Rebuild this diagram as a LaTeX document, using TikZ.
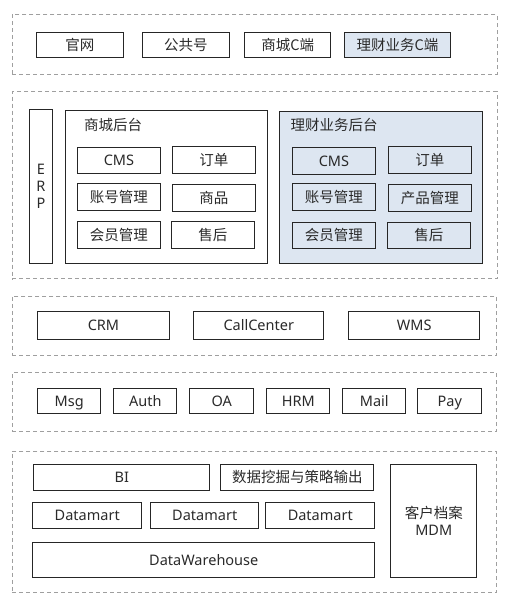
\documentclass[tikz,border=0pt]{standalone}
\usepackage{fontspec}
\setmainfont{Noto Sans}
\newfontfamily\cjk{Noto Sans CJK SC}
\definecolor{lb}{HTML}{DDE6F1}
\definecolor{tx}{HTML}{2A2A2A}
\newcommand\bx[7][]{\node[bx,#1,anchor=north west,minimum width=#4pt-#2pt,minimum height=#5pt-#3pt] (#6) at (#2,#3) {#7};}
\begin{document}
\begin{tikzpicture}[x=1pt,y=-1pt,
  bx/.style={draw=black!85,line width=0.9pt,inner sep=0pt,text=tx,font=\fontsize{14.5}{17}\selectfont,align=center,text height=10.4pt,text depth=0pt},
  multi/.style={text height=,text depth=},
  layer/.style={draw=gray!75,line width=0.8pt,dash pattern=on 4pt off 3pt},
  blue/.style={fill=lb},
  lbl/.style={anchor=west,inner sep=0pt,text=tx,font=\cjk\fontsize{14.5}{17}\selectfont}]
\useasboundingbox[fill=white] (0,0) rectangle (512,606);
% layers
\bx[layer]{11.7}{14.3}{496.5}{74}{L1}{}
\bx[layer]{11.7}{91}{496.5}{278.3}{L2}{}
\bx[layer]{11.7}{295.7}{496}{355.3}{L3}{}
\bx[layer]{11.7}{372.3}{496}{431.3}{L4}{}
\bx[layer]{11.7}{450.7}{496}{592.3}{L5}{}
% row 1
\bx{36.3}{31.7}{122.7}{57.3}{gw}{\cjk 官网}
\bx{142.3}{31.7}{228.7}{57.3}{gzh}{\cjk 公共号}
\bx{244.3}{31.7}{330.3}{57.3}{scc}{\cjk 商城C端}
\bx[blue]{344.3}{31.7}{449.7}{57.3}{lcc}{\cjk 理财业务C端}
% row 2
\bx[multi]{29.3}{109.3}{51.7}{263.3}{erp}{E\\R\\P}
\bx{65.3}{110.3}{266.7}{263.3}{scht}{}
\node[lbl] (sclbl) at (84,125) {商城后台};
\bx{77.3}{147}{159.7}{173.3}{cms1}{CMS}
\bx{172}{146}{254.7}{172.7}{dd1}{\cjk 订单}
\bx{77.3}{183}{159.7}{209.7}{zh1}{\cjk 账号管理}
\bx{172}{184}{254.7}{210.7}{sp1}{\cjk 商品}
\bx{77.3}{221}{159.7}{248.3}{hy1}{\cjk 会员管理}
\bx{171.3}{221}{253.7}{248.3}{sh1}{\cjk 售后}
\bx[blue]{279.3}{111.3}{481.7}{263.3}{lcht}{}
\node[lbl] (lclbl) at (290.5,125) {理财业务后台};
\bx[blue]{292.3}{147}{374.7}{174.3}{cms2}{CMS}
\bx[blue]{388.3}{146}{470.7}{173.3}{dd2}{\cjk 订单}
\bx[blue]{292.3}{183}{374.7}{209.7}{zh2}{\cjk 账号管理}
\bx[blue]{388.3}{184}{470.7}{210.7}{cp2}{\cjk 产品管理}
\bx[blue]{292.3}{222}{374.7}{248.3}{hy2}{\cjk 会员管理}
\bx[blue]{387.3}{222}{469.7}{248.3}{sh2}{\cjk 售后}
% row 3
\bx{37.3}{310.7}{168.7}{339.3}{crm}{CRM}
\bx{193.3}{310.7}{323.3}{339.3}{cc}{CallCenter}
\bx{348.3}{310.7}{479.3}{339.3}{wms}{WMS}
% row 4
\bx{37.3}{387.7}{100.3}{413.3}{msg}{Msg}
\bx{113.3}{387.7}{176.3}{413.3}{auth}{Auth}
\bx{189.3}{387.7}{253.3}{413.3}{oa}{OA}
\bx{266.3}{387.7}{329.3}{413.3}{hrm}{HRM}
\bx{342.3}{387.7}{405.3}{413.3}{mail}{Mail}
\bx{417.3}{387.7}{481.3}{413.3}{pay}{Pay}
% row 5
\bx{33.3}{463.7}{209.3}{490.3}{bi}{BI}
\bx{220.3}{463.7}{373.3}{490.3}{sjwj}{\cjk 数据挖掘与策略输出}
\bx{32.3}{502.3}{141.3}{528.3}{dm1}{Datamart}
\bx{150.3}{502.3}{258.3}{528.3}{dm2}{Datamart}
\bx{265.3}{502.3}{374.3}{528.3}{dm3}{Datamart}
\bx{32.3}{542.3}{374.3}{577.3}{dw}{DataWarehouse}
\bx[multi]{390.3}{464.3}{476.3}{577.3}{mdm}{{\cjk 客户档案}\\MDM}
\end{tikzpicture}
\end{document}
